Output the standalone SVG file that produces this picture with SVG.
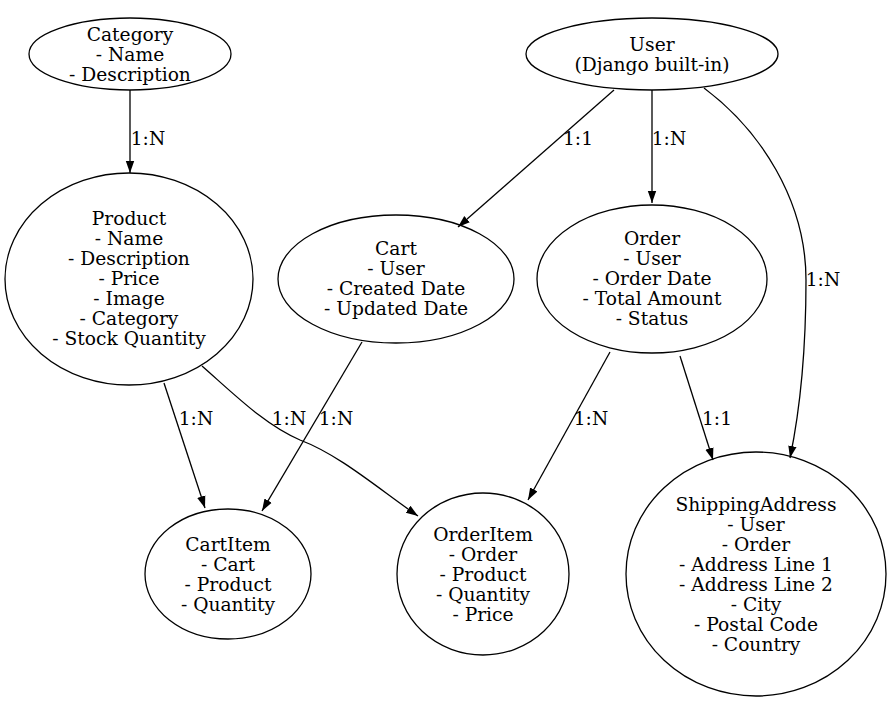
<svg xmlns="http://www.w3.org/2000/svg" width="891" height="701" viewBox="0 0 891 701" font-family="'DejaVu Serif', 'Liberation Serif', serif" font-size="18.67">
<defs>
<style>
.n ellipse{fill:none;stroke:#000;stroke-width:1.3}
.n text{text-anchor:middle}
.e path{fill:none;stroke:#000;stroke-width:1.3}
.l{text-anchor:middle}
</style>
<marker id="a" viewBox="0 0 10 10" refX="10" refY="5" markerWidth="12" markerHeight="12" markerUnits="userSpaceOnUse" orient="auto"><path d="M0,1.5 L10,5 L0,8.5 Z" fill="#000"/></marker>
</defs>
<rect width="891" height="701" fill="#fff"/>
<g id="edges" class="e">
<path d="M130,90 L130,173" marker-end="url(#a)"/>
<text class="l" x="148" y="145">1:N</text>
<path d="M614,90 L458,227" marker-end="url(#a)"/>
<text class="l" x="578" y="145">1:1</text>
<path d="M652,90 L652,203" marker-end="url(#a)"/>
<text class="l" x="669" y="145">1:N</text>
<path d="M704,88 C760,130 806,200 806,280 C806,350 800,410 790,458" marker-end="url(#a)"/>
<text class="l" x="823" y="286">1:N</text>
<path d="M164,383 L205,508" marker-end="url(#a)"/>
<text class="l" x="196" y="425">1:N</text>
<path d="M202,366 C235,395 265,425 300,440 C340,455 380,490 418,516" marker-end="url(#a)"/>
<text class="l" x="289" y="425">1:N</text>
<path d="M362,342 L262,511" marker-end="url(#a)"/>
<text class="l" x="336" y="425">1:N</text>
<path d="M610,352 L528,500" marker-end="url(#a)"/>
<text class="l" x="591" y="425">1:N</text>
<path d="M680,356 L713,460" marker-end="url(#a)"/>
<text class="l" x="717" y="425">1:1</text>
</g>
<g id="Category" class="n"><ellipse cx="130" cy="54" rx="101" ry="36"/>
<text x="130" y="41">Category</text><text x="130" y="61">- Name</text><text x="130" y="81">- Description</text></g>
<g id="User" class="n"><ellipse cx="652" cy="54" rx="126" ry="36"/>
<text x="652" y="51">User</text><text x="652" y="71">(Django built-in)</text></g>
<g id="Product" class="n"><ellipse cx="129" cy="279" rx="124" ry="106"/>
<text x="129" y="225">Product</text><text x="129" y="245">- Name</text><text x="129" y="265">- Description</text><text x="129" y="285">- Price</text><text x="129" y="305">- Image</text><text x="129" y="325">- Category</text><text x="129" y="345">- Stock Quantity</text></g>
<g id="Cart" class="n"><ellipse cx="396" cy="279" rx="118" ry="64"/>
<text x="396" y="255">Cart</text><text x="396" y="275">- User</text><text x="396" y="295">- Created Date</text><text x="396" y="315">- Updated Date</text></g>
<g id="Order" class="n"><ellipse cx="652" cy="279" rx="115" ry="74"/>
<text x="652" y="245">Order</text><text x="652" y="265">- User</text><text x="652" y="285">- Order Date</text><text x="652" y="305">- Total Amount</text><text x="652" y="325">- Status</text></g>
<g id="CartItem" class="n"><ellipse cx="228" cy="574" rx="83" ry="65"/>
<text x="228" y="551">CartItem</text><text x="228" y="571">- Cart</text><text x="228" y="591">- Product</text><text x="228" y="611">- Quantity</text></g>
<g id="OrderItem" class="n"><ellipse cx="483" cy="574" rx="86" ry="81"/>
<text x="483" y="541">OrderItem</text><text x="483" y="561">- Order</text><text x="483" y="581">- Product</text><text x="483" y="601">- Quantity</text><text x="483" y="621">- Price</text></g>
<g id="ShippingAddress" class="n"><ellipse cx="756" cy="574" rx="130" ry="122"/>
<text x="756" y="511">ShippingAddress</text><text x="756" y="531">- User</text><text x="756" y="551">- Order</text><text x="756" y="571">- Address Line 1</text><text x="756" y="591">- Address Line 2</text><text x="756" y="611">- City</text><text x="756" y="631">- Postal Code</text><text x="756" y="651">- Country</text></g>
</svg>
